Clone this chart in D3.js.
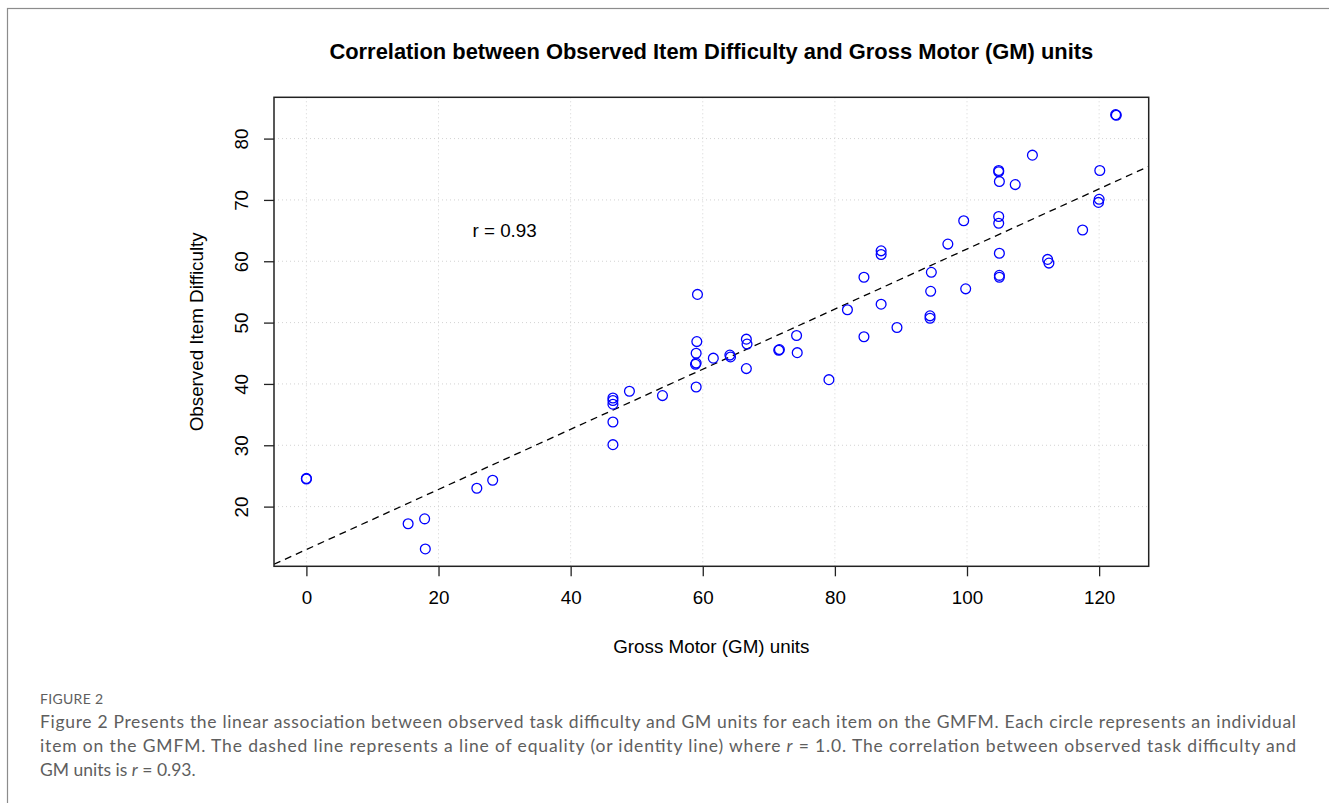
<!DOCTYPE html>
<html>
<head>
<meta charset="utf-8">
<script src="https://cdn.jsdelivr.net/npm/d3@7"></script>
<style>
  body { margin: 0; background: #fff; }
  svg { display: block; }
</style>
</head>
<body>
<div id="chart"></div>
<script>
// GM units (x) and observed item difficulty (y), one entry per GMFM item
var gmUnits = [0, 0, 15.4, 17.9, 18.0, 25.8, 28.2, 46.4, 46.4, 46.4, 46.4, 46.4, 48.9, 53.9,
  59.0, 58.9, 59.0, 59.0, 59.1, 59.2, 61.6, 64.1, 64.2, 66.6, 66.7, 66.6, 71.5, 71.6, 74.2, 74.3,
  79.1, 81.9, 84.4, 84.4, 87.0, 87.0, 87.0, 89.4, 94.6, 94.5, 94.4, 94.4, 97.1, 99.5, 99.8,
  104.8, 104.8, 104.9, 104.8, 104.8, 104.9, 104.9, 104.9, 107.3, 109.9, 112.2, 112.4, 117.5,
  120.1, 120.0, 119.9, 122.5, 122.6];
var difficulty = [24.6, 24.5, 17.2, 18.0, 13.1, 23.0, 24.3, 37.7, 37.3, 36.7, 33.8, 30.1, 38.8, 38.1,
  39.5, 43.2, 43.4, 45.0, 46.9, 54.6, 44.2, 44.7, 44.4, 47.3, 46.5, 42.5, 45.5, 45.6, 47.9, 45.1,
  40.7, 52.1, 57.4, 47.7, 61.7, 61.1, 53.0, 49.2, 58.2, 55.1, 51.1, 50.7, 62.8, 66.6, 55.5,
  74.8, 74.6, 73.0, 67.3, 66.2, 61.3, 57.7, 57.4, 72.5, 77.3, 60.3, 59.7, 65.1,
  74.8, 70.1, 69.6, 83.9, 83.8];

var xTicks = [0, 20, 40, 60, 80, 100, 120];
var yTicks = [20, 30, 40, 50, 60, 70, 80];

// fitted line shown dashed, and the annotation
var fitIntercept = 13.0, fitSlope = 0.49;
var rLabel = {x: 30, y: 65, text: "r = 0.93"};

var width = 1329, height = 803;
var box = {left: 274, right: 1148.7, top: 97.3, bottom: 566.3};
var plotFont = "'Liberation Sans', Arial, Helvetica, sans-serif";
var plotSize = "18.8px";

var svg = d3.select("#chart").append("svg")
  .attr("width", width)
  .attr("height", height);

// outer frame of the figure panel (runs off the page right and bottom)
svg.append("rect")
  .attr("x", 7.5).attr("y", 8.5)
  .attr("width", 1400).attr("height", 900)
  .attr("fill", "none")
  .attr("stroke", "#8c8c8c")
  .attr("stroke-width", 1.2);

// R style 4% padding round the data range
function padded(vals){
  var e = d3.extent(vals), p = (e[1] - e[0]) * 0.04;
  return [e[0] - p, e[1] + p];
}

var x = d3.scaleLinear().domain(padded(gmUnits)).range([box.left, box.right]);
var y = d3.scaleLinear().domain(padded(difficulty)).range([box.bottom, box.top]);

var points = gmUnits.map(function(d, i){ return {gm: d, diff: difficulty[i]}; });

svg.append("clipPath").attr("id", "clip")
  .append("rect")
  .attr("x", box.left).attr("y", box.top)
  .attr("width", box.right - box.left).attr("height", box.bottom - box.top);

// dotted grid
var grid = svg.append("g").attr("stroke", "#d3d3d3").attr("stroke-dasharray", "1,3");
grid.selectAll(".gx").data(xTicks).enter().append("line")
  .attr("x1", function(d){ return x(d); }).attr("x2", function(d){ return x(d); })
  .attr("y1", box.top).attr("y2", box.bottom);
grid.selectAll(".gy").data(yTicks).enter().append("line")
  .attr("x1", box.left).attr("x2", box.right)
  .attr("y1", function(d){ return y(d); }).attr("y2", function(d){ return y(d); });

// axes
var xAxis = d3.axisBottom(x).tickValues(xTicks).tickSize(10).tickPadding(14);
var yAxis = d3.axisLeft(y).tickValues(yTicks).tickSize(10);

var gx = svg.append("g")
  .attr("transform", "translate(0," + box.bottom + ")")
  .call(xAxis);
gx.select(".domain").remove();
gx.selectAll("line").attr("stroke", "#222").attr("stroke-width", 1.3);
gx.selectAll("text")
  .attr("font-family", plotFont).attr("font-size", plotSize).attr("fill", "#000");

var gy = svg.append("g")
  .attr("transform", "translate(" + box.left + ",0)")
  .call(yAxis);
gy.select(".domain").remove();
gy.selectAll("line").attr("stroke", "#222").attr("stroke-width", 1.3);
gy.selectAll("text")
  .attr("font-family", plotFont).attr("font-size", plotSize).attr("fill", "#000")
  .attr("text-anchor", "middle")
  .attr("x", 0).attr("y", 0).attr("dy", 0)
  .attr("transform", "translate(-33,0) rotate(-90)")
  .attr("dominant-baseline", "central");

// fitted line
var xd = x.domain();
svg.append("line")
  .attr("clip-path", "url(#clip)")
  .attr("x1", x(xd[0])).attr("y1", y(fitIntercept + fitSlope * xd[0]))
  .attr("x2", x(xd[1])).attr("y2", y(fitIntercept + fitSlope * xd[1]))
  .attr("stroke", "#000")
  .attr("stroke-width", 1.3)
  .attr("stroke-dasharray", "7,5");

// points
svg.append("g").selectAll("circle")
  .data(points)
  .enter()
  .append("circle")
  .attr("cx", function(d){ return x(d.gm); })
  .attr("cy", function(d){ return y(d.diff); })
  .attr("r", 4.9)
  .attr("fill", "none")
  .attr("stroke", "#0000ff")
  .attr("stroke-width", 1.3);

// plot box
svg.append("rect")
  .attr("x", box.left).attr("y", box.top)
  .attr("width", box.right - box.left).attr("height", box.bottom - box.top)
  .attr("fill", "none")
  .attr("stroke", "#222")
  .attr("stroke-width", 1.5);

svg.append("text")
  .attr("x", x(rLabel.x)).attr("y", y(rLabel.y))
  .attr("text-anchor", "middle")
  .attr("dominant-baseline", "central")
  .attr("font-family", plotFont).attr("font-size", plotSize)
  .text(rLabel.text);

// titles
var midX = (box.left + box.right) / 2;
svg.append("text")
  .attr("x", midX).attr("y", 59)
  .attr("text-anchor", "middle")
  .attr("font-family", plotFont).attr("font-size", "21.9px").attr("font-weight", "bold")
  .text("Correlation between Observed Item Difficulty and Gross Motor (GM) units");

svg.append("text")
  .attr("x", midX).attr("y", 652.5)
  .attr("text-anchor", "middle")
  .attr("font-family", plotFont).attr("font-size", plotSize)
  .text("Gross Motor (GM) units");

svg.append("text")
  .attr("transform", "translate(203," + ((box.top + box.bottom) / 2) + ") rotate(-90)")
  .attr("text-anchor", "middle")
  .attr("font-family", plotFont).attr("font-size", plotSize)
  .text("Observed Item Difficulty");

// caption
var capFont = "Lato, 'Open Sans', sans-serif";
svg.append("text")
  .attr("x", 40).attr("y", 704)
  .attr("font-family", capFont).attr("font-size", "14px")
  .attr("fill", "#5e5e5e").attr("letter-spacing", "0.3px")
  .text("FIGURE 2");

var capLines = [
  [{t: "Figure 2 Presents the linear association between observed task difficulty and GM units for each item on the GMFM. Each circle represents an individual"}],
  [{t: "item on the GMFM. The dashed line represents a line of equality (or identity line) where "}, {t: "r", i: true}, {t: " = 1.0. The correlation between observed task difficulty and"}],
  [{t: "GM units is "}, {t: "r", i: true}, {t: " = 0.93."}]
];
var capLen = [1256, 1256, null];
capLines.forEach(function(parts, li){
  var t = svg.append("text")
    .attr("x", 40).attr("y", 728 + li * 24)
    .attr("font-family", capFont).attr("font-size", "17.5px")
    .attr("fill", "#5e5e5e");
  if(capLen[li]) t.attr("textLength", capLen[li]).attr("lengthAdjust", "spacing");
  parts.forEach(function(p){
    t.append("tspan").attr("font-style", p.i ? "italic" : null).text(p.t);
  });
});
</script>
</body>
</html>
